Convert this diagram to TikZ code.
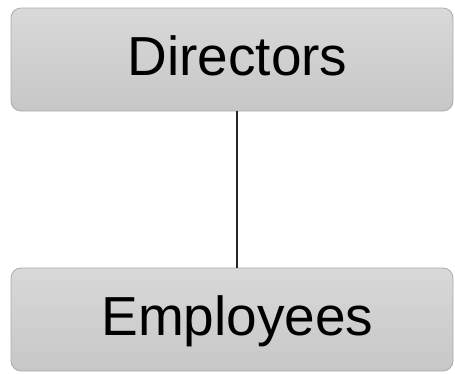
\documentclass[tikz,border=0pt]{standalone}
\usepackage{fontspec}
\setmainfont{Liberation Sans}
\begin{document}
\begin{tikzpicture}[x=1pt,y=-1pt,
  boxstyle/.style={draw=black!33, line width=0.8pt, rounded corners=10pt,
    top color=black!15, bottom color=black!22, shading angle=0,
    minimum width=442pt, minimum height=103pt, inner sep=0pt,
    text height=41pt, text depth=10pt,
    font=\fontsize{55}{60}\selectfont},
  linkstyle/.style={draw=black!85, line width=1.4pt}]
\useasboundingbox (0,0) rectangle (455,373);
\node[boxstyle] (dir) at (232,59.5) {\hspace*{11pt}Directors};
\node[boxstyle] (emp) at (232,319.5) {\hspace*{11pt}Employees};
\draw[linkstyle] ([xshift=5pt]dir.south) -- ([xshift=5pt]emp.north);
\end{tikzpicture}
\end{document}
